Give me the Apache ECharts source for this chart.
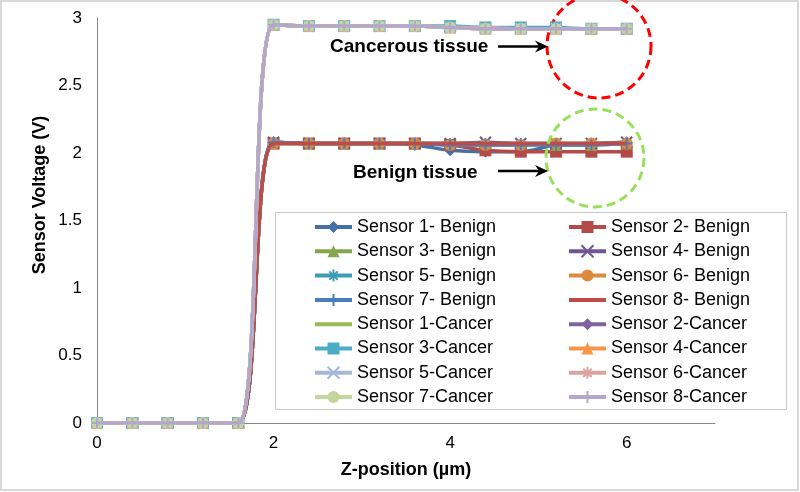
<!DOCTYPE html>
<html>
<head>
<meta charset="utf-8">
<script src="https://cdn.jsdelivr.net/npm/echarts@6/dist/echarts.min.js"></script>
<style>
  html, body { margin: 0; padding: 0; background: #fff; }
  #chart { width: 800px; height: 492px; }
</style>
</head>
<body>
<div id="chart"></div>
<script>
// z positions (um) of the measurement points
var zPos = [0, 0.4, 0.8, 1.2, 1.6, 2, 2.4, 2.8, 3.2, 3.6, 4, 4.4, 4.8, 5.2, 5.6, 6];

// benign tissue readings (V)
var s1Benign = [0, 0, 0, 0, 0, 2.08, 2.07, 2.07, 2.07, 2.06, 2.02, 2.01, 2.01, 2.06, 2.07, 2.08];
var s2Benign = [0, 0, 0, 0, 0, 2.07, 2.07, 2.07, 2.07, 2.07, 2.06, 2.02, 2.01, 2.01, 2.01, 2.01];
var s3Benign = [0, 0, 0, 0, 0, 2.08, 2.07, 2.07, 2.07, 2.07, 2.07, 2.07, 2.07, 2.06, 2.06, 2.07];
var s4Benign = [0, 0, 0, 0, 0, 2.08, 2.07, 2.07, 2.07, 2.07, 2.07, 2.08, 2.07, 2.07, 2.07, 2.08];
var s5Benign = [0, 0, 0, 0, 0, 2.07, 2.07, 2.07, 2.07, 2.07, 2.07, 2.07, 2.07, 2.07, 2.07, 2.07];
var s6Benign = [0, 0, 0, 0, 0, 2.07, 2.07, 2.07, 2.07, 2.07, 2.06, 2.06, 2.06, 2.07, 2.07, 2.07];
var s7Benign = [0, 0, 0, 0, 0, 2.08, 2.07, 2.07, 2.07, 2.07, 2.06, 2.06, 2.06, 2.06, 2.06, 2.07];
var s8Benign = [0, 0, 0, 0, 0, 2.07, 2.07, 2.07, 2.07, 2.07, 2.07, 2.07, 2.07, 2.07, 2.07, 2.07];

// cancerous tissue readings (V)
var s1Cancer = [0, 0, 0, 0, 0, 2.95, 2.94, 2.94, 2.94, 2.94, 2.93, 2.92, 2.92, 2.92, 2.92, 2.92];
var s2Cancer = [0, 0, 0, 0, 0, 2.95, 2.94, 2.94, 2.94, 2.94, 2.93, 2.92, 2.92, 2.92, 2.92, 2.92];
var s3Cancer = [0, 0, 0, 0, 0, 2.95, 2.94, 2.94, 2.94, 2.94, 2.94, 2.93, 2.93, 2.93, 2.92, 2.92];
var s4Cancer = [0, 0, 0, 0, 0, 2.95, 2.94, 2.94, 2.94, 2.94, 2.93, 2.92, 2.92, 2.92, 2.92, 2.92];
var s5Cancer = [0, 0, 0, 0, 0, 2.95, 2.94, 2.94, 2.94, 2.94, 2.93, 2.92, 2.92, 2.92, 2.92, 2.92];
var s6Cancer = [0, 0, 0, 0, 0, 2.95, 2.94, 2.94, 2.94, 2.94, 2.93, 2.93, 2.92, 2.92, 2.92, 2.92];
var s7Cancer = [0, 0, 0, 0, 0, 2.95, 2.94, 2.94, 2.94, 2.94, 2.93, 2.92, 2.92, 2.92, 2.92, 2.92];
var s8Cancer = [0, 0, 0, 0, 0, 2.95, 2.94, 2.94, 2.94, 2.94, 2.93, 2.92, 2.92, 2.92, 2.92, 2.92];

var seriesNames = [
  'Sensor 1- Benign', 'Sensor 2- Benign', 'Sensor 3- Benign', 'Sensor 4- Benign',
  'Sensor 5- Benign', 'Sensor 6- Benign', 'Sensor 7- Benign', 'Sensor 8- Benign',
  'Sensor 1-Cancer', 'Sensor 2-Cancer', 'Sensor 3-Cancer', 'Sensor 4-Cancer',
  'Sensor 5-Cancer', 'Sensor 6-Cancer', 'Sensor 7-Cancer', 'Sensor 8-Cancer'
];
var seriesValues = [s1Benign, s2Benign, s3Benign, s4Benign, s5Benign, s6Benign, s7Benign, s8Benign,
  s1Cancer, s2Cancer, s3Cancer, s4Cancer, s5Cancer, s6Cancer, s7Cancer, s8Cancer];

var xTicks = [0, 2, 4, 6];
var yTicks = [0, 0.5, 1, 1.5, 2, 2.5, 3];

// marker shapes (excel style)
var X_MARK = 'path://M0,0L10,10M10,0L0,10';
var STAR_MARK = 'path://M0,5L10,5M5,0L5,10M1.5,1.5L8.5,8.5M8.5,1.5L1.5,8.5';
var PLUS_MARK = 'path://M5,0L5,10M0,5L10,5';
var NO_MARK = 'path://M0,0L10,10'; // never filled or stroked, legend shows a plain line

var colors = ['#4470A6', '#B44A47', '#86A64E', '#6F5690', '#3E9CB5', '#DD8A3F', '#4A7EBB', '#BE4B48',
  '#9BBB59', '#8064A2', '#4BACC6', '#F79646', '#A6B8DA', '#DBA3A2', '#C3D69B', '#B4A7CB'];
var markers = ['diamond', 'rect', 'triangle', X_MARK, STAR_MARK, 'circle', PLUS_MARK, NO_MARK,
  NO_MARK, 'diamond', 'rect', 'triangle', X_MARK, STAR_MARK, 'circle', PLUS_MARK];

var series = [];
for (var i = 0; i < seriesNames.length; i++) {
  var noMark = markers[i] === NO_MARK;
  var isPath = !noMark && markers[i].indexOf('path://') === 0;
  var itemStyle = { color: colors[i], borderWidth: 0 };
  if (isPath) itemStyle = { color: colors[i], borderColor: colors[i], borderWidth: 2 };
  if (noMark) itemStyle = { color: 'rgba(0,0,0,0)', borderWidth: 0 };
  series.push({
    name: seriesNames[i],
    type: 'line',
    smooth: 0.35,
    data: zPos.map(function (z, k) { return [z, seriesValues[i][k]]; }),
    symbol: markers[i],
    symbolSize: isPath ? 11 : 12,
    showSymbol: !noMark,
    lineStyle: { width: 3.5, color: colors[i] },
    itemStyle: itemStyle,
    z: 2 + i
  });
}

var legendText = { fontFamily: 'Liberation Sans, Arial', fontSize: 18, color: '#000', lineHeight: 20 };

var chart = echarts.init(document.getElementById('chart'), null, { renderer: 'canvas' });
chart.setOption({
  animation: false,
  backgroundColor: '#fff',
  textStyle: { fontFamily: 'Liberation Sans, Arial' },
  grid: { left: 97, top: 18, right: 85, bottom: 69 },
  xAxis: {
    type: 'value',
    min: 0, max: 7, interval: 2,
    name: 'Z-position (\u00b5m)',
    nameLocation: 'middle',
    nameGap: 38,
    nameTextStyle: { fontSize: 18, fontWeight: 'bold', color: '#000' },
    axisLine: { show: true, lineStyle: { color: '#868686', width: 1 } },
    axisTick: { show: false },
    splitLine: { show: false },
    axisLabel: {
      fontSize: 17, color: '#000', margin: 12, showMaxLabel: false,
      formatter: function (v) { return xTicks.indexOf(v) >= 0 ? String(v) : ''; }
    }
  },
  yAxis: {
    type: 'value',
    min: 0, max: 3, interval: 0.5,
    axisLine: { show: true, lineStyle: { color: '#868686', width: 1 } },
    axisTick: { show: false },
    splitLine: { show: false },
    axisLabel: {
      fontSize: 17, color: '#000', margin: 15,
      formatter: function (v) { return yTicks.indexOf(v) >= 0 ? String(v) : ''; }
    }
  },
  legend: [
    {
      data: seriesNames.filter(function (n, k) { return k % 2 === 0; }),
      orient: 'vertical', left: 313, top: 217, padding: 0,
      itemWidth: 37, itemHeight: 15, itemGap: 4.3, itemTextGap: 3,
      lineStyle: { width: 4 },
      textStyle: legendText
    },
    {
      data: seriesNames.filter(function (n, k) { return k % 2 === 1; }),
      orient: 'vertical', left: 567, top: 217, padding: 0,
      itemWidth: 37, itemHeight: 15, itemGap: 4.3, itemTextGap: 3,
      lineStyle: { width: 4 },
      textStyle: legendText
    }
  ],
  graphic: [
    // outer chart border
    { type: 'rect', shape: { x: 1, y: 1, width: 797, height: 489 }, style: { fill: 'none', stroke: '#d9d9d9', lineWidth: 2 }, silent: true, z: 0 },
    // legend frame
    { type: 'rect', shape: { x: 275.5, y: 212.5, width: 511, height: 197 }, style: { fill: '#fff', stroke: '#c8c8c8', lineWidth: 1 }, silent: true, z: 1 },
    // y axis title
    {
      type: 'text', x: 40, y: 195, rotation: Math.PI / 2,
      style: { text: 'Sensor Voltage (V)', font: 'bold 18px Liberation Sans, Arial', fill: '#000', align: 'center', verticalAlign: 'middle' },
      z: 10
    },
    // annotation circles
    { type: 'circle', shape: { cx: 599, cy: 46, r: 52 }, style: { fill: 'none', stroke: '#FF0000', lineWidth: 3, lineDash: [9, 5] }, z: 10 },
    { type: 'circle', shape: { cx: 595, cy: 158, r: 49 }, style: { fill: 'none', stroke: '#98E05A', lineWidth: 3, lineDash: [9, 5] }, z: 10 },
    // annotation labels
    {
      type: 'text', x: 330, y: 47,
      style: { text: 'Cancerous tissue', font: 'bold 19px Liberation Sans, Arial', fill: '#000', align: 'left', verticalAlign: 'middle' },
      z: 10
    },
    {
      type: 'text', x: 353, y: 173,
      style: { text: 'Benign tissue', font: 'bold 19px Liberation Sans, Arial', fill: '#000', align: 'left', verticalAlign: 'middle' },
      z: 10
    },
    // arrows
    { type: 'line', shape: { x1: 498, y1: 46.5, x2: 540, y2: 46.5 }, style: { stroke: '#000', lineWidth: 2.5 }, z: 10 },
    { type: 'polygon', shape: { points: [[548, 46.5], [535, 40.5], [539, 46.5], [535, 52.5]] }, style: { fill: '#000' }, z: 10 },
    { type: 'line', shape: { x1: 498, y1: 171, x2: 540, y2: 171 }, style: { stroke: '#000', lineWidth: 2.5 }, z: 10 },
    { type: 'polygon', shape: { points: [[548, 171], [535, 165], [539, 171], [535, 177]] }, style: { fill: '#000' }, z: 10 }
  ],
  series: series
});
</script>
</body>
</html>
